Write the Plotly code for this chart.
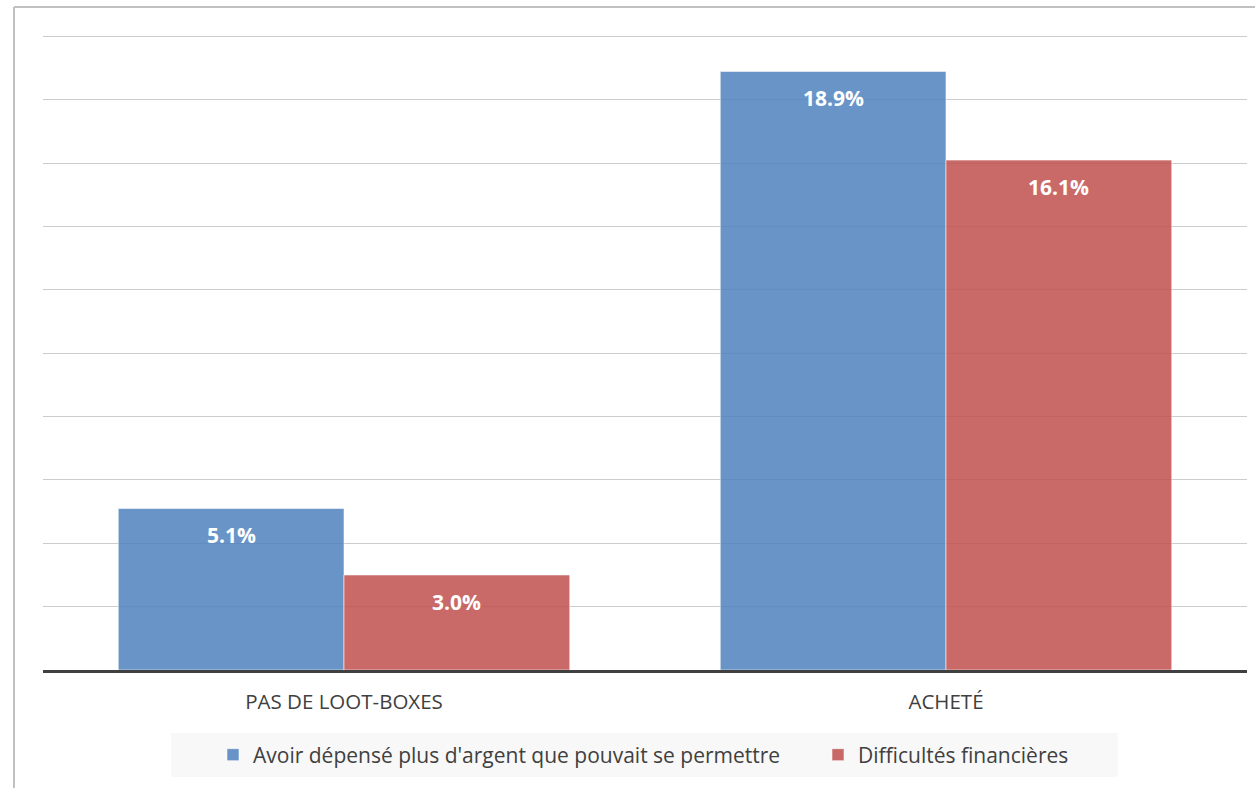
import plotly.graph_objects as go

categories = ["PAS DE LOOT-BOXES", "ACHETÉ"]
series_names = ["Avoir dépensé plus d'argent que pouvait se permettre", "Difficultés financières"]
overspent = [5.1, 18.9]
hardship = [3.0, 16.1]
series_values = [overspent, hardship]
colors = ["rgba(79,129,189,0.85)", "rgba(192,80,77,0.85)"]

W, H = 1255, 788
L, R, T, B = 43, 8, 35, 118
pw, ph = W - L - R, H - T - B

def px_x(px):
    return (px - L) / pw

def px_y(py):
    return (H - B - py) / ph

legend_ids = ["legend", "legend2"]
legend_left_px = [213, 818]

fig = go.Figure()
for name, vals, col, lg in zip(series_names, series_values, colors, legend_ids):
    fig.add_trace(go.Bar(
        x=categories, y=vals, name=name, legend=lg,
        marker=dict(color=col, line=dict(color="rgba(255,255,255,0.55)", width=1)),
        hoverinfo="skip",
    ))

# value labels just inside the top of each bar
bargap = 0.25
bar_w = (1 - bargap) / len(series_values)
annotations = []
for s, vals in enumerate(series_values):
    off = -(1 - bargap) / 2 + bar_w * (s + 0.5)
    for i, v in enumerate(vals):
        annotations.append(dict(
            x=i + off, y=v, xref="x", yref="y",
            text=f"{v:.1f}%", showarrow=False, yanchor="top", yshift=-11,
            font=dict(family="Open Sans", size=21, color="white", weight="bold"),
        ))

# legend background band
shapes = [
    dict(type="rect", xref="paper", yref="paper",
         x0=px_x(171), x1=px_x(1118), y0=px_y(777), y1=px_y(733),
         fillcolor="#f8f8f8", line=dict(width=0), layer="below"),
    # chart frame (left and top edges)
    dict(type="line", xref="paper", yref="paper",
         x0=px_x(14), x1=px_x(14), y0=px_y(790), y1=px_y(7),
         line=dict(color="#c0c0c0", width=2)),
    dict(type="line", xref="paper", yref="paper",
         x0=px_x(14), x1=px_x(1260), y0=px_y(7), y1=px_y(7),
         line=dict(color="#c0c0c0", width=2)),
]

def legend_box(left_px):
    return dict(orientation="h", x=px_x(left_px), xanchor="left",
                y=px_y(755), yanchor="middle",
                bgcolor="rgba(0,0,0,0)", font=dict(size=21, color="#404040"),
                itemclick=False, itemdoubleclick=False)

fig.update_layout(
    width=W, height=H,
    margin=dict(l=L, r=R, t=T, b=B, autoexpand=False),
    paper_bgcolor="white", plot_bgcolor="white",
    barmode="group", bargap=bargap, bargroupgap=0,
    font=dict(family="Open Sans", color="#404040"),
    showlegend=True,
    legend=legend_box(legend_left_px[0]),
    legend2=legend_box(legend_left_px[1]),
    annotations=annotations,
    shapes=shapes,
)
fig.update_xaxes(showgrid=False, showline=True, linecolor="#404040", linewidth=3,
                 ticks="", tickfont=dict(size=20.5, color="#404040"),
                 ticklabelstandoff=11)
fig.update_yaxes(range=[0, 20.05], dtick=2, showticklabels=False, showgrid=True,
                 gridcolor="#cccccc", gridwidth=1, zeroline=False, showline=False)

fig.write_html("out.html")
